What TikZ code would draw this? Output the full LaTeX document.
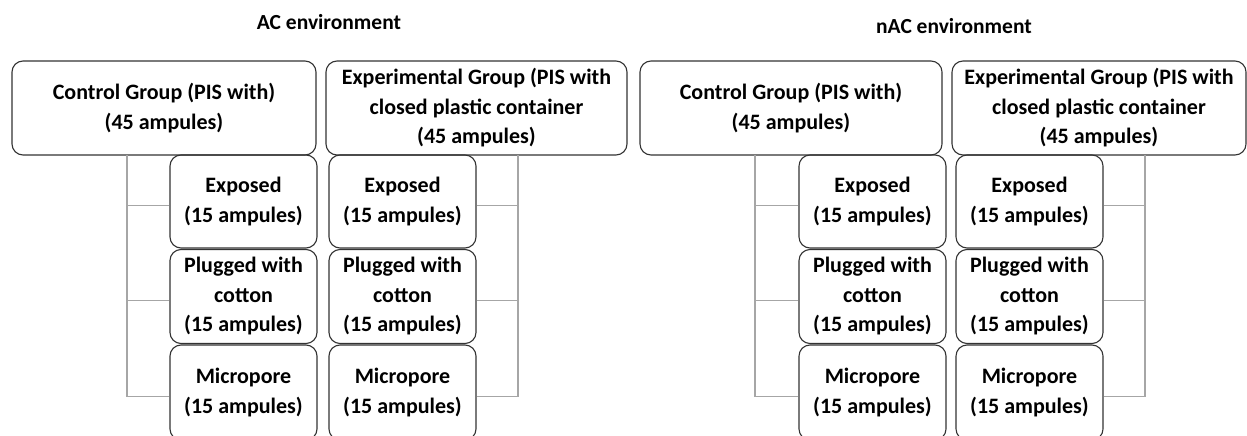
\documentclass[tikz,border=0pt]{standalone}
\usepackage{fontspec}
\setmainfont{Carlito}
\definecolor{edgec}{HTML}{333333}
\definecolor{linkc}{HTML}{A6A6A6}
\begin{document}
\begin{tikzpicture}[x=1pt,y=-1pt,
  box/.style={draw=edgec, line width=1.1pt, rounded corners=11pt, align=center,
    font=\bfseries\fontsize{22}{29.5}\selectfont, inner sep=0pt},
  sub/.style={box, minimum width=147pt},
  title/.style={font=\bfseries\fontsize{21.5}{24}\selectfont, inner sep=0pt},
  link/.style={draw=linkc, line width=1.2pt}]
\clip (0,0) rectangle (1247,436);
\fill[white] (0,0) rectangle (1247,436);

% ---------- AC environment ----------
\node[title] (tA) at (329,22) {AC environment};
\node[box, minimum width=304pt, minimum height=94pt] (cA) at (164,108)
  {Control Group (PIS with)\\(45 ampules)};
\node[box, minimum width=301pt, minimum height=94pt] (eA) at (476.5,108)
  {Experimental Group (PIS with\\closed plastic container\\(45 ampules)};
\node[sub, minimum height=93pt] (cA1) at (243.5,201.5) {Exposed\\(15 ampules)};
\node[sub, minimum height=94pt] (cA2) at (243.5,296.5) {Plugged with\\cotton\\(15 ampules)};
\node[sub, minimum height=95pt] (cA3) at (243.5,392.5) {Micropore\\(15 ampules)};
\node[sub, minimum height=93pt] (eA1) at (402.5,201.5) {Exposed\\(15 ampules)};
\node[sub, minimum height=94pt] (eA2) at (402.5,296.5) {Plugged with\\cotton\\(15 ampules)};
\node[sub, minimum height=95pt] (eA3) at (402.5,392.5) {Micropore\\(15 ampules)};
\coordinate (lA) at (127,155);
\coordinate (rA) at (518,155);
\draw[link] (lA) |- ([yshift=-4pt]cA3.west);
\draw[link] ([yshift=-4pt]cA1.west) -- ++(-43,0);
\draw[link] ([yshift=-4pt]cA2.west) -- ++(-43,0);
\draw[link] (rA) |- ([yshift=-4pt]eA3.east);
\draw[link] ([yshift=-4pt]eA1.east) -- ++(42,0);
\draw[link] ([yshift=-4pt]eA2.east) -- ++(42,0);

% ---------- nAC environment ----------
\node[title] (tB) at (954,26) {nAC environment};
\node[box, minimum width=302pt, minimum height=94pt] (cB) at (791,108)
  {Control Group (PIS with)\\(45 ampules)};
\node[box, minimum width=294pt, minimum height=94pt] (eB) at (1099,108)
  {Experimental Group (PIS with\\closed plastic container\\(45 ampules)};
\node[sub, minimum height=93pt] (cB1) at (872.5,201.5) {Exposed\\(15 ampules)};
\node[sub, minimum height=94pt] (cB2) at (872.5,296.5) {Plugged with\\cotton\\(15 ampules)};
\node[sub, minimum height=95pt] (cB3) at (872.5,392.5) {Micropore\\(15 ampules)};
\node[sub, minimum height=93pt] (eB1) at (1029.5,201.5) {Exposed\\(15 ampules)};
\node[sub, minimum height=94pt] (eB2) at (1029.5,296.5) {Plugged with\\cotton\\(15 ampules)};
\node[sub, minimum height=95pt] (eB3) at (1029.5,392.5) {Micropore\\(15 ampules)};
\coordinate (lB) at (755,155);
\coordinate (rB) at (1145,155);
\draw[link] (lB) |- ([yshift=-4pt]cB3.west);
\draw[link] ([yshift=-4pt]cB1.west) -- ++(-44,0);
\draw[link] ([yshift=-4pt]cB2.west) -- ++(-44,0);
\draw[link] (rB) |- ([yshift=-4pt]eB3.east);
\draw[link] ([yshift=-4pt]eB1.east) -- ++(42,0);
\draw[link] ([yshift=-4pt]eB2.east) -- ++(42,0);
\end{tikzpicture}
\end{document}
